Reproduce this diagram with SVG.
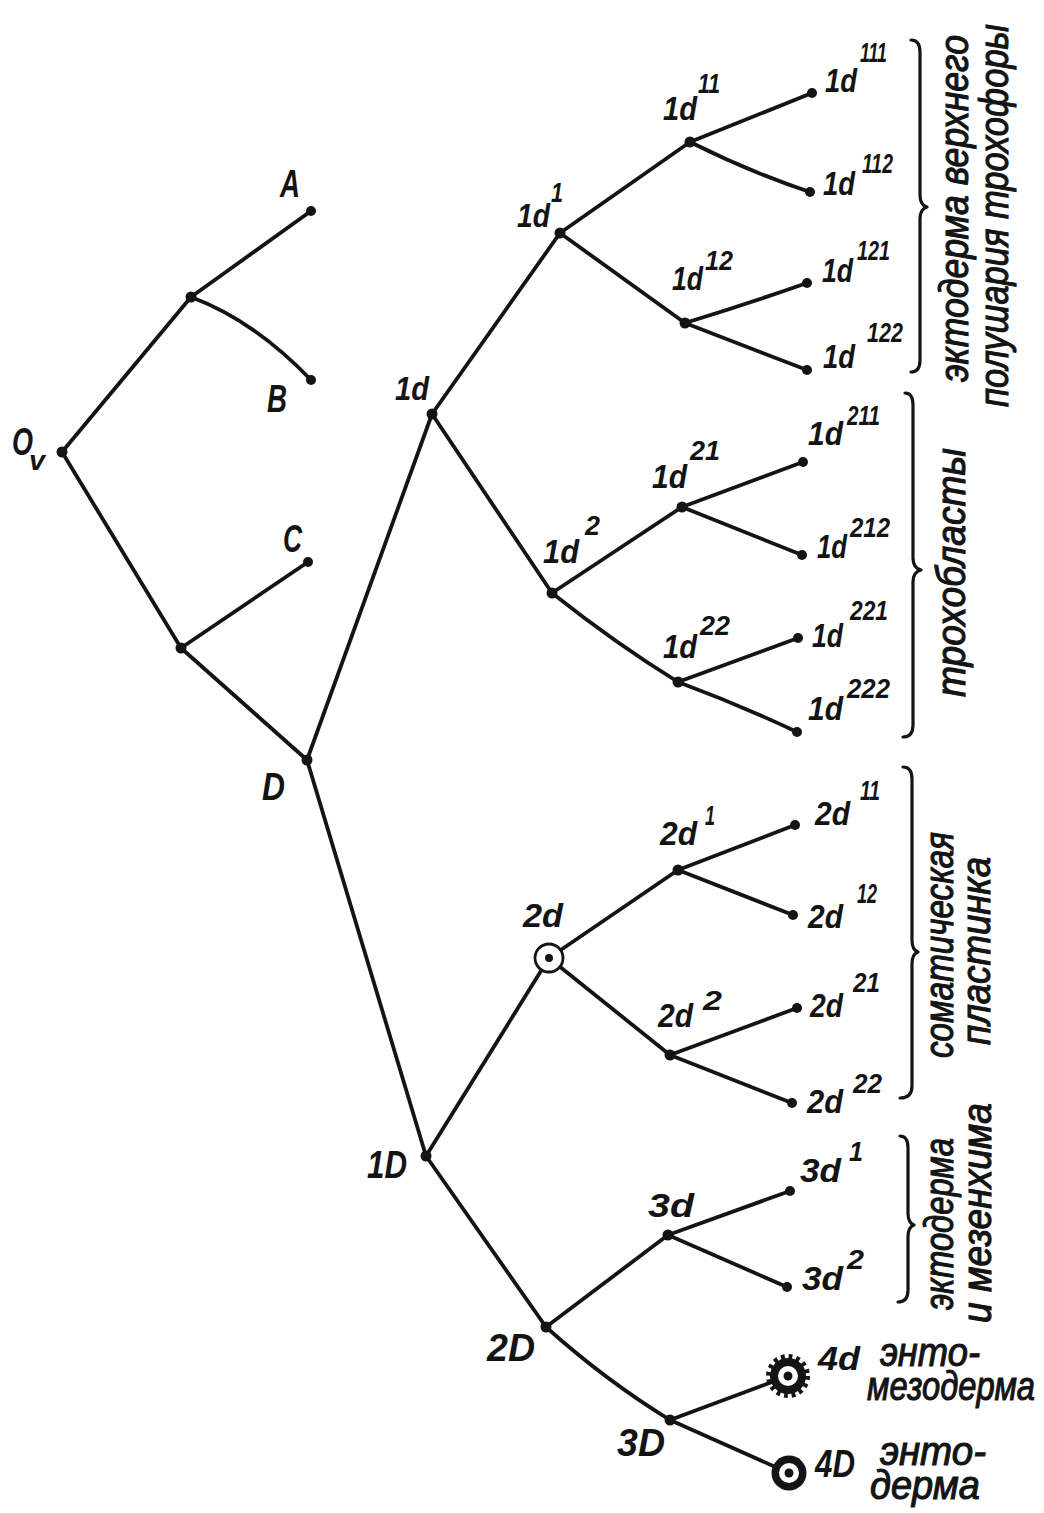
<svg xmlns="http://www.w3.org/2000/svg" width="1044" height="1513" viewBox="0 0 1044 1513">
<style>
.ln{stroke:#141414;stroke-width:3.8;fill:none;stroke-linecap:round;stroke-linejoin:round}
.br{stroke:#141414;stroke-width:3.2;fill:none;stroke-linecap:round;stroke-linejoin:round}
.dot{fill:#141414}
.lbl{font-family:"Liberation Sans","DejaVu Sans",sans-serif;font-style:italic;font-weight:bold;fill:#141414;font-size:34px}
.sup{font-size:27px}
.cap{font-size:38px}
.txt{font-family:"Liberation Sans","DejaVu Sans",sans-serif;font-style:italic;fill:#141414;stroke:#141414;stroke-width:1.1;font-size:40px}
</style>
<rect width="1044" height="1513" fill="#ffffff"/>

<g id="connectors">
<line class="ln" x1="62" y1="452" x2="191" y2="297"/>
<line class="ln" x1="191" y1="297" x2="311" y2="211"/>
<path class="ln" d="M191 297 Q255 321 311 380"/>
<path class="ln" d="M62 452 Q118 545 181 648"/>
<line class="ln" x1="181" y1="648" x2="308" y2="562"/>
<line class="ln" x1="181" y1="648" x2="307" y2="760"/>
<line class="ln" x1="307" y1="760" x2="432" y2="414"/>
<line class="ln" x1="307" y1="760" x2="426" y2="1156"/>
<line class="ln" x1="432" y1="414" x2="560" y2="233"/>
<line class="ln" x1="432" y1="414" x2="552" y2="593"/>
<line class="ln" x1="560" y1="233" x2="690" y2="142"/>
<line class="ln" x1="560" y1="233" x2="685" y2="323"/>
<line class="ln" x1="690" y1="142" x2="812" y2="93"/>
<path class="ln" d="M690 142 Q750 172 810 192"/>
<path class="ln" d="M685 323 Q750 303 807 283"/>
<line class="ln" x1="685" y1="323" x2="807" y2="370"/>
<line class="ln" x1="552" y1="593" x2="682" y2="507"/>
<path class="ln" d="M552 593 Q615 643 678 682"/>
<line class="ln" x1="682" y1="507" x2="803" y2="462"/>
<line class="ln" x1="682" y1="507" x2="802" y2="555"/>
<line class="ln" x1="678" y1="682" x2="798" y2="638"/>
<path class="ln" d="M678 682 Q740 705 797 732"/>
<line class="ln" x1="426" y1="1156" x2="549" y2="958"/>
<line class="ln" x1="426" y1="1156" x2="546" y2="1327"/>
<line class="ln" x1="549" y1="958" x2="678" y2="870"/>
<line class="ln" x1="549" y1="958" x2="670" y2="1055"/>
<line class="ln" x1="678" y1="870" x2="795" y2="825"/>
<line class="ln" x1="678" y1="870" x2="793" y2="915"/>
<line class="ln" x1="670" y1="1055" x2="797" y2="1008"/>
<line class="ln" x1="670" y1="1055" x2="792" y2="1103"/>
<line class="ln" x1="546" y1="1327" x2="668" y2="1235"/>
<path class="ln" d="M546 1327 Q605 1380 670 1420"/>
<line class="ln" x1="668" y1="1235" x2="790" y2="1191"/>
<line class="ln" x1="668" y1="1235" x2="787" y2="1287"/>
<line class="ln" x1="670" y1="1420" x2="788" y2="1376"/>
<line class="ln" x1="670" y1="1420" x2="789" y2="1473"/>
</g>

<g id="node-Ov"><circle class="dot" cx="62" cy="452" r="5.5"/>
<text class="lbl cap"><tspan x="12" y="455" textLength="21" lengthAdjust="spacingAndGlyphs">O</tspan><tspan x="29" y="470" font-size="28" textLength="16" lengthAdjust="spacingAndGlyphs">v</tspan></text></g>
<g id="node-AB"><circle class="dot" cx="191" cy="297" r="5.5"/></g>
<g id="node-A"><circle class="dot" cx="311" cy="211" r="5"/>
<text class="lbl cap" x="280" y="197" textLength="20" lengthAdjust="spacingAndGlyphs">A</text></g>
<g id="node-B"><circle class="dot" cx="311" cy="380" r="5"/>
<text class="lbl cap" x="267" y="412" textLength="20" lengthAdjust="spacingAndGlyphs">B</text></g>
<g id="node-CD"><circle class="dot" cx="181" cy="648" r="5.5"/></g>
<g id="node-C"><circle class="dot" cx="308" cy="562" r="5"/>
<text class="lbl cap" x="283" y="552" textLength="19" lengthAdjust="spacingAndGlyphs">C</text></g>
<g id="node-D"><circle class="dot" cx="307" cy="760" r="5.5"/>
<text class="lbl cap" x="262" y="800" textLength="23" lengthAdjust="spacingAndGlyphs">D</text></g>

<g id="node-1d"><circle class="dot" cx="432" cy="414" r="5.5"/>
<text class="lbl" x="395" y="400" textLength="34" lengthAdjust="spacingAndGlyphs">1d</text></g>
<g id="node-1d1"><circle class="dot" cx="560" cy="233" r="5.5"/>
<text class="lbl"><tspan x="517" y="227" textLength="33" lengthAdjust="spacingAndGlyphs">1d</tspan><tspan class="sup" x="551" y="202" textLength="12" lengthAdjust="spacingAndGlyphs">1</tspan></text></g>
<g id="node-1d11"><circle class="dot" cx="690" cy="142" r="5.5"/>
<text class="lbl"><tspan x="663" y="120" textLength="34" lengthAdjust="spacingAndGlyphs">1d</tspan><tspan class="sup" x="698" y="93" textLength="22" lengthAdjust="spacingAndGlyphs">11</tspan></text></g>
<g id="node-1d111"><circle class="dot" cx="812" cy="93" r="5"/>
<text class="lbl"><tspan x="825" y="92" textLength="32" lengthAdjust="spacingAndGlyphs">1d</tspan><tspan class="sup" x="860" y="62" textLength="27" lengthAdjust="spacingAndGlyphs">111</tspan></text></g>
<g id="node-1d112"><circle class="dot" cx="810" cy="192" r="5"/>
<text class="lbl"><tspan x="823" y="195" textLength="32" lengthAdjust="spacingAndGlyphs">1d</tspan><tspan class="sup" x="862" y="173" textLength="31" lengthAdjust="spacingAndGlyphs">112</tspan></text></g>
<g id="node-1d12"><circle class="dot" cx="685" cy="323" r="5.5"/>
<text class="lbl"><tspan x="672" y="290" textLength="31" lengthAdjust="spacingAndGlyphs">1d</tspan><tspan class="sup" x="705" y="270" textLength="28" lengthAdjust="spacingAndGlyphs">12</tspan></text></g>
<g id="node-1d121"><circle class="dot" cx="807" cy="283" r="5"/>
<text class="lbl"><tspan x="822" y="282" textLength="31" lengthAdjust="spacingAndGlyphs">1d</tspan><tspan class="sup" x="857" y="260" textLength="33" lengthAdjust="spacingAndGlyphs">121</tspan></text></g>
<g id="node-1d122"><circle class="dot" cx="807" cy="370" r="5"/>
<text class="lbl"><tspan x="823" y="368" textLength="32" lengthAdjust="spacingAndGlyphs">1d</tspan><tspan class="sup" x="867" y="342" textLength="36" lengthAdjust="spacingAndGlyphs">122</tspan></text></g>

<g id="node-1d2"><circle class="dot" cx="552" cy="593" r="5.5"/>
<text class="lbl"><tspan x="543" y="563" textLength="36" lengthAdjust="spacingAndGlyphs">1d</tspan><tspan class="sup" x="585" y="535" textLength="15" lengthAdjust="spacingAndGlyphs">2</tspan></text></g>
<g id="node-1d21"><circle class="dot" cx="682" cy="507" r="5.5"/>
<text class="lbl"><tspan x="652" y="488" textLength="35" lengthAdjust="spacingAndGlyphs">1d</tspan><tspan class="sup" x="690" y="460" textLength="30" lengthAdjust="spacingAndGlyphs">21</tspan></text></g>
<g id="node-1d211"><circle class="dot" cx="803" cy="462" r="5"/>
<text class="lbl"><tspan x="808" y="445" textLength="35" lengthAdjust="spacingAndGlyphs">1d</tspan><tspan class="sup" x="847" y="425" textLength="33" lengthAdjust="spacingAndGlyphs">211</tspan></text></g>
<g id="node-1d212"><circle class="dot" cx="802" cy="555" r="5"/>
<text class="lbl"><tspan x="817" y="558" textLength="30" lengthAdjust="spacingAndGlyphs">1d</tspan><tspan class="sup" x="850" y="537" textLength="40" lengthAdjust="spacingAndGlyphs">212</tspan></text></g>
<g id="node-1d22"><circle class="dot" cx="678" cy="682" r="5.5"/>
<text class="lbl"><tspan x="663" y="658" textLength="34" lengthAdjust="spacingAndGlyphs">1d</tspan><tspan class="sup" x="700" y="635" textLength="30" lengthAdjust="spacingAndGlyphs">22</tspan></text></g>
<g id="node-1d221"><circle class="dot" cx="798" cy="638" r="5"/>
<text class="lbl"><tspan x="812" y="647" textLength="31" lengthAdjust="spacingAndGlyphs">1d</tspan><tspan class="sup" x="850" y="620" textLength="38" lengthAdjust="spacingAndGlyphs">221</tspan></text></g>
<g id="node-1d222"><circle class="dot" cx="797" cy="732" r="5"/>
<text class="lbl"><tspan x="808" y="720" textLength="35" lengthAdjust="spacingAndGlyphs">1d</tspan><tspan class="sup" x="847" y="698" textLength="43" lengthAdjust="spacingAndGlyphs">222</tspan></text></g>

<g id="node-1D"><circle class="dot" cx="426" cy="1156" r="5.5"/>
<text class="lbl cap" x="367" y="1178" textLength="40" lengthAdjust="spacingAndGlyphs">1D</text></g>
<g id="node-2d">
<circle cx="549" cy="958" r="14" fill="#ffffff" stroke="#141414" stroke-width="2.8"/>
<circle class="dot" cx="549" cy="958" r="4"/>
<text class="lbl" x="523" y="927" textLength="40" lengthAdjust="spacingAndGlyphs">2d</text></g>
<g id="node-2d1"><circle class="dot" cx="678" cy="870" r="5.5"/>
<text class="lbl"><tspan x="660" y="845" textLength="37" lengthAdjust="spacingAndGlyphs">2d</tspan><tspan class="sup" x="705" y="825" textLength="10" lengthAdjust="spacingAndGlyphs">1</tspan></text></g>
<g id="node-2d11"><circle class="dot" cx="795" cy="825" r="5"/>
<text class="lbl"><tspan x="815" y="825" textLength="35" lengthAdjust="spacingAndGlyphs">2d</tspan><tspan class="sup" x="860" y="800" textLength="20" lengthAdjust="spacingAndGlyphs">11</tspan></text></g>
<g id="node-2d12"><circle class="dot" cx="793" cy="915" r="5"/>
<text class="lbl"><tspan x="808" y="928" textLength="35" lengthAdjust="spacingAndGlyphs">2d</tspan><tspan class="sup" x="857" y="903" textLength="20" lengthAdjust="spacingAndGlyphs">12</tspan></text></g>
<g id="node-2d2"><circle class="dot" cx="670" cy="1055" r="5.5"/>
<text class="lbl"><tspan x="658" y="1027" textLength="35" lengthAdjust="spacingAndGlyphs">2d</tspan><tspan class="sup" x="703" y="1010" textLength="19" lengthAdjust="spacingAndGlyphs">2</tspan></text></g>
<g id="node-2d21"><circle class="dot" cx="797" cy="1008" r="5"/>
<text class="lbl"><tspan x="810" y="1017" textLength="33" lengthAdjust="spacingAndGlyphs">2d</tspan><tspan class="sup" x="853" y="992" textLength="27" lengthAdjust="spacingAndGlyphs">21</tspan></text></g>
<g id="node-2d22"><circle class="dot" cx="792" cy="1103" r="5"/>
<text class="lbl"><tspan x="807" y="1113" textLength="36" lengthAdjust="spacingAndGlyphs">2d</tspan><tspan class="sup" x="853" y="1093" textLength="29" lengthAdjust="spacingAndGlyphs">22</tspan></text></g>

<g id="node-2D"><circle class="dot" cx="546" cy="1327" r="5.5"/>
<text class="lbl cap" x="487" y="1361" textLength="48" lengthAdjust="spacingAndGlyphs">2D</text></g>
<g id="node-3d"><circle class="dot" cx="668" cy="1235" r="5.5"/>
<text class="lbl" x="648" y="1217" textLength="46" lengthAdjust="spacingAndGlyphs">3d</text></g>
<g id="node-3d1"><circle class="dot" cx="790" cy="1191" r="5"/>
<text class="lbl"><tspan x="800" y="1182" textLength="41" lengthAdjust="spacingAndGlyphs">3d</tspan><tspan class="sup" x="849" y="1161" textLength="14" lengthAdjust="spacingAndGlyphs">1</tspan></text></g>
<g id="node-3d2"><circle class="dot" cx="787" cy="1287" r="5"/>
<text class="lbl"><tspan x="802" y="1290" textLength="41" lengthAdjust="spacingAndGlyphs">3d</tspan><tspan class="sup" x="847" y="1269" textLength="17" lengthAdjust="spacingAndGlyphs">2</tspan></text></g>
<g id="node-3D"><circle class="dot" cx="670" cy="1420" r="5.5"/>
<text class="lbl cap" x="617" y="1456" textLength="48" lengthAdjust="spacingAndGlyphs">3D</text></g>
<g id="node-4d">
<circle cx="788" cy="1376" r="19.5" fill="none" stroke="#141414" stroke-width="5" stroke-dasharray="3.8 3.86"/>
<circle class="dot" cx="788" cy="1376" r="18"/>
<circle cx="788" cy="1376" r="10" fill="#ffffff"/>
<circle class="dot" cx="788" cy="1376" r="4.5"/>
<text class="lbl" x="818" y="1370" textLength="42" lengthAdjust="spacingAndGlyphs">4d</text>
<text class="txt" x="880" y="1366" textLength="100" lengthAdjust="spacingAndGlyphs">энто-</text>
<text class="txt" x="867" y="1400" textLength="168" lengthAdjust="spacingAndGlyphs">мезодерма</text>
</g>
<g id="node-4D">
<circle class="dot" cx="789" cy="1473" r="17.5"/>
<circle cx="789" cy="1473" r="10" fill="#ffffff"/>
<circle class="dot" cx="789" cy="1473" r="4.5"/>
<text class="lbl cap" x="815" y="1477" textLength="40" lengthAdjust="spacingAndGlyphs">4D</text>
<text class="txt" x="880" y="1465" textLength="106" lengthAdjust="spacingAndGlyphs">энто-</text>
<text class="txt" x="870" y="1499" textLength="110" lengthAdjust="spacingAndGlyphs">дерма</text>
</g>

<g id="brace-1">
<path class="br" d="M911 40 Q920 40 920 52 L920 195 Q920 205 927 207 Q920 209 920 219 L920 360 Q920 372 911 372"/>
<text class="txt" transform="translate(968,382) rotate(-90)" x="0" y="0" textLength="347" lengthAdjust="spacingAndGlyphs">эктодерма верхнего</text>
<text class="txt" transform="translate(1008,407) rotate(-90)" x="0" y="0" textLength="383" lengthAdjust="spacingAndGlyphs">полушария трохофоры</text>
</g>
<g id="brace-2">
<path class="br" d="M905 393 Q913 393 913 405 L913 558 Q913 568 921 570 Q913 572 913 582 L913 725 Q913 737 903 737"/>
<text class="txt" transform="translate(965,697) rotate(-90)" x="0" y="0" textLength="249" lengthAdjust="spacingAndGlyphs">трохобласты</text>
</g>
<g id="brace-3">
<path class="br" d="M903 767 Q912 767 912 779 L912 940 Q912 950 918 952 Q912 954 912 964 L912 1086 Q912 1098 900 1098"/>
<text class="txt" transform="translate(953,1058) rotate(-90)" x="0" y="0" textLength="226" lengthAdjust="spacingAndGlyphs">соматическая</text>
<text class="txt" transform="translate(990,1045) rotate(-90)" x="0" y="0" textLength="188" lengthAdjust="spacingAndGlyphs">пластинка</text>
</g>
<g id="brace-4">
<path class="br" d="M900 1136 Q908 1136 908 1148 L908 1213 Q908 1223 914 1225 Q908 1227 908 1237 L908 1290 Q908 1302 898 1302"/>
<text class="txt" transform="translate(953,1310) rotate(-90)" x="0" y="0" textLength="172" lengthAdjust="spacingAndGlyphs">эктодерма</text>
<text class="txt" transform="translate(991,1323) rotate(-90)" x="0" y="0" textLength="220" lengthAdjust="spacingAndGlyphs">и мезенхима</text>
</g>
</svg>
